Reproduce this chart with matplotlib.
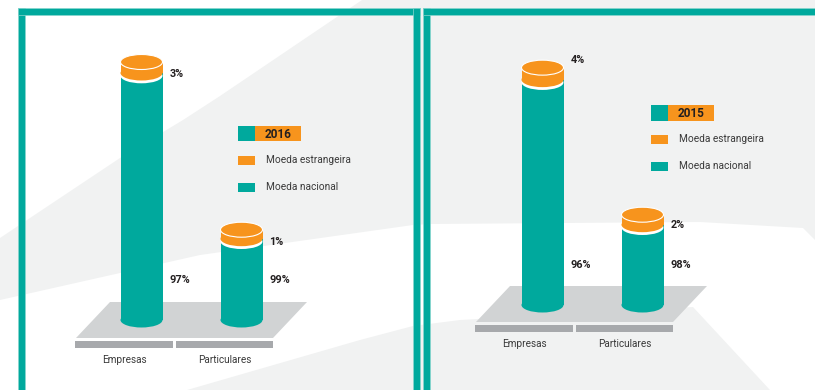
import matplotlib
matplotlib.use('Agg')
import matplotlib.pyplot as plt
from matplotlib.patches import Rectangle, Ellipse, Polygon

plt.rcParams['font.family'] = ['Roboto', 'DejaVu Sans']

# data
categories = ['Empresas', 'Particulares']
legend_labels = ['Moeda estrangeira', 'Moeda nacional']
years = ['2016', '2015']
nacional_2016 = [97, 99]
estrangeira_2016 = [3, 1]
nacional_2015 = [96, 98]
estrangeira_2015 = [4, 2]
# relative size of each cylinder (Empresas 2016 = 100)
altura_2016 = [100, 35]
altura_2015 = [92, 35]

TEAL = '#00a99d'
TEAL_EDGE = '#8ad6cf'
ORANGE = '#f7941d'
GREY_BG = '#f1f2f2'
PLATFORM = '#d1d3d4'
BASE = '#a7a9ac'
TEXT = '#231f20'

W, H = 815, 390
SX = 100.0   # px per category step
SY = 2.58    # px per height unit
YMIN, YMAX = -10, 110

fig = plt.figure(figsize=(W / 100, H / 100), dpi=100)
fig.patch.set_facecolor('white')

# background layer in pixel coordinates
bg = fig.add_axes([0, 0, 1, 1])
bg.set_xlim(0, W)
bg.set_ylim(H, 0)
bg.axis('off')

bg.add_patch(Polygon([(0, 238), (120, 158), (183, 120), (220, 96), (362, 0),
                      (815, 0), (815, 240), (803, 228), (700, 222), (430, 224),
                      (413, 225), (200, 255), (120, 273), (0, 300)],
                     closed=True, fc=GREY_BG, lw=0))
bg.add_patch(Polygon([(187, 390), (360, 340), (413, 326), (460, 320),
                      (693, 307), (770, 390)], closed=True, fc=GREY_BG, lw=0))

# teal frames
for (x, y, w, h) in [(18, 8, 7, 382), (18, 8, 402, 7), (413, 8, 7, 382),
                     (423, 8, 7, 382), (423, 8, 392, 7)]:
    bg.add_patch(Rectangle((x, y), w, h, fc=TEAL, ec=TEAL_EDGE, lw=0.5))


def cylinder(ax, x, total, pct_foreign):
    w = 0.42
    ry = 7.5 / SY
    cap = (8 + pct_foreign) / SY
    gap = 2.8 / SY
    top_teal = total - cap
    ax.add_patch(Ellipse((x, 0), w, 2 * ry, fc=TEAL, lw=0))
    ax.add_patch(Rectangle((x - w / 2, 0), w, top_teal, fc=TEAL, lw=0))
    ax.add_patch(Ellipse((x, top_teal - gap), w, 2 * ry, fc='white', lw=0))
    ax.add_patch(Rectangle((x - w / 2, top_teal), w, cap, fc=ORANGE, lw=0))
    ax.add_patch(Ellipse((x, top_teal), w, 2 * ry, fc=ORANGE, lw=0))
    ax.add_patch(Ellipse((x, total), w, 2 * ry, fc=ORANGE, ec='white', lw=0.8))


def panel(cx0, y0, shift, year, nacional, estrangeira, altura, leg, foreign_dy):
    # chart axes: x = category index, y = cylinder height
    left = (cx0 - 0.6 * SX) / W
    bottom = (H - (y0 - YMIN * SY)) / H
    ax = fig.add_axes([left, bottom, 2.2 * SX / W, (YMAX - YMIN) * SY / H])
    ax.set_xlim(-0.6, 1.6)
    ax.set_ylim(YMIN, YMAX)
    ax.axis('off')

    # platform and base bars (pixel layer)
    dx, dy = shift
    bg.add_patch(Polygon([(110 + dx, 302 + dy), (307 + dx, 302 + dy),
                          (273 + dx, 338 + dy), (76 + dx, 338 + dy)],
                         closed=True, fc=PLATFORM, lw=0))
    for i, (bx, bw) in enumerate([(75, 98), (176, 97)]):
        bg.add_patch(Rectangle((bx + dx, 341 + dy), bw, 7, fc=BASE, lw=0))
        bg.text(bx + dx + bw / 2, 360 + dy, categories[i], ha='center', va='center',
                fontsize=7.2, color='#3a3a3a')

    for i in range(len(categories)):
        cylinder(ax, i, altura[i], estrangeira[i])
        ax.text(i + 0.28, altura[i] + foreign_dy[i] / SY, f'{estrangeira[i]}%',
                ha='left', va='center', fontsize=7.8, fontweight='bold', color=TEXT)
        ax.text(i + 0.28, 40 / SY, f'{nacional[i]}%',
                ha='left', va='center', fontsize=7.8, fontweight='bold', color=TEXT)

    # legend
    lx, ly, th = leg
    bg.add_patch(Rectangle((lx, ly), 17, th, fc=TEAL, lw=0))
    bg.add_patch(Rectangle((lx + 17, ly), 46, th, fc=ORANGE, lw=0))
    bg.text(lx + 40, ly + th / 2 + 0.5, year, ha='center', va='center',
            fontsize=8.5, fontweight='bold', color=TEXT)
    for j, (lab, col) in enumerate(zip(legend_labels, [ORANGE, TEAL])):
        yy = ly + 29.5 + 27 * j
        bg.add_patch(Rectangle((lx, yy), 17, 9.5, fc=col, lw=0))
        bg.text(lx + 28, yy + 4.8, lab, ha='left', va='center',
                fontsize=7.3, color='#3a3a3a')


panel(141.5, 320, (0, 0), years[0], nacional_2016, estrangeira_2016,
      altura_2016, (238, 126, 15), [-12, -12])
panel(542.5, 305, (400, -16), years[1], nacional_2015, estrangeira_2015,
      altura_2015, (651, 105, 16), [8, -10])

fig.savefig('out.png', dpi=100, facecolor=fig.get_facecolor())
